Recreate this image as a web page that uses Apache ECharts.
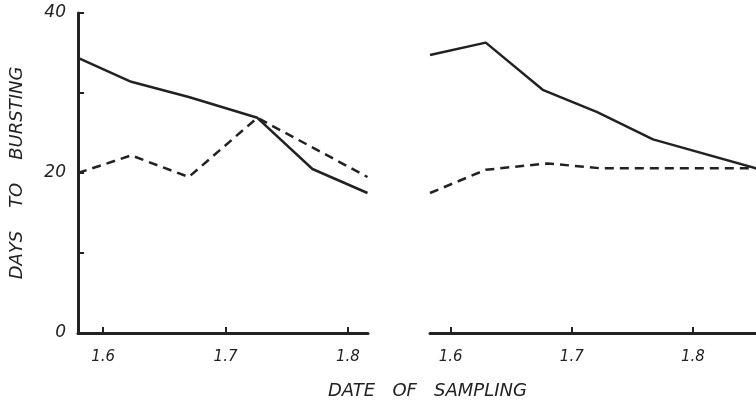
<!DOCTYPE html>
<html><head><meta charset="utf-8">
<script src="https://cdn.jsdelivr.net/npm/echarts@6/dist/echarts.min.js"></script>
<style>html,body{margin:0;padding:0;background:#fff}#c{width:756px;height:405px}</style>
</head><body><div id="c"></div>
<script>
// Left panel
const leftSolidX = [1.5795, 1.623, 1.670, 1.726, 1.771, 1.816];
const leftSolidY = [34.4, 31.4, 29.5, 26.9, 20.5, 17.5];
const leftDashX = [1.5795, 1.623, 1.670, 1.726, 1.816];
const leftDashY = [20.0, 22.2, 19.5, 26.9, 19.5];
// Right panel
const rightSolidX = [1.583, 1.629, 1.676, 1.721, 1.767, 1.852];
const rightSolidY = [34.75, 36.3, 30.4, 27.6, 24.2, 20.6];
const rightDashX = [1.583, 1.629, 1.680, 1.723, 1.852];
const rightDashY = [17.5, 20.4, 21.2, 20.6, 20.6];
const xTicks = [1.6, 1.7, 1.8];
const yLabels = [0, 20, 40];
const yTitle = 'DAYS    TO    BURSTING';
const xTitle = 'DATE   OF   SAMPLING';

const pair = (xs, ys) => xs.map((x, i) => [x, ys[i]]);
const ink = '#222';
const font = 'DejaVu Sans';
const xAxisBase = (min, max, idx) => ({
  type: 'value', gridIndex: idx, min: min, max: max,
  axisLine: {show: true, lineStyle: {color: ink, width: 3}},
  axisTick: {show: true, inside: true, length: 6, lineStyle: {color: ink, width: 2}, customValues: xTicks},
  axisLabel: {customValues: xTicks, formatter: v => v.toFixed(1), color: ink, fontStyle: 'italic', fontFamily: font, fontSize: 15, margin: 17},
  splitLine: {show: false}
});
const chart = echarts.init(document.getElementById('c'), null, {renderer: 'canvas'});
chart.setOption({
  animation: false,
  backgroundColor: '#fff',
  grid: [
    {left: 78, top: 13, width: 290, height: 320},
    {left: 430, top: 13, width: 326, height: 320}
  ],
  xAxis: [xAxisBase(1.5795, 1.8164, 0), xAxisBase(1.583, 1.852, 1)],
  yAxis: [
    {type: 'value', gridIndex: 0, min: 0, max: 40, interval: 10,
     axisLine: {show: true, lineStyle: {color: ink, width: 3}},
     axisTick: {show: true, inside: true, length: 6, lineStyle: {color: ink, width: 2}},
     axisLabel: {formatter: v => yLabels.includes(v) ? String(v) : '', color: ink, fontStyle: 'italic', fontFamily: font, fontSize: 17, margin: 12},
     splitLine: {show: false},
     name: yTitle, nameLocation: 'middle', nameRotate: 90, nameGap: 52,
     nameTextStyle: {color: ink, fontStyle: 'italic', fontFamily: font, fontSize: 18}},
    {type: 'value', gridIndex: 1, min: 0, max: 40, show: false}
  ],
  graphic: [{type: 'text', left: 328, top: 382,
    style: {text: xTitle, fill: ink, font: 'italic 18px "DejaVu Sans"'}}],
  series: [
    {type: 'line', xAxisIndex: 0, yAxisIndex: 0, data: pair(leftSolidX, leftSolidY), showSymbol: false, lineStyle: {color: ink, width: 2.5}},
    {type: 'line', xAxisIndex: 0, yAxisIndex: 0, data: pair(leftDashX, leftDashY), showSymbol: false, lineStyle: {color: ink, width: 2.5, type: [9, 6]}},
    {type: 'line', xAxisIndex: 1, yAxisIndex: 1, data: pair(rightSolidX, rightSolidY), showSymbol: false, lineStyle: {color: ink, width: 2.5}},
    {type: 'line', xAxisIndex: 1, yAxisIndex: 1, data: pair(rightDashX, rightDashY), showSymbol: false, lineStyle: {color: ink, width: 2.5, type: [9, 6]}}
  ]
});
</script></body></html>
